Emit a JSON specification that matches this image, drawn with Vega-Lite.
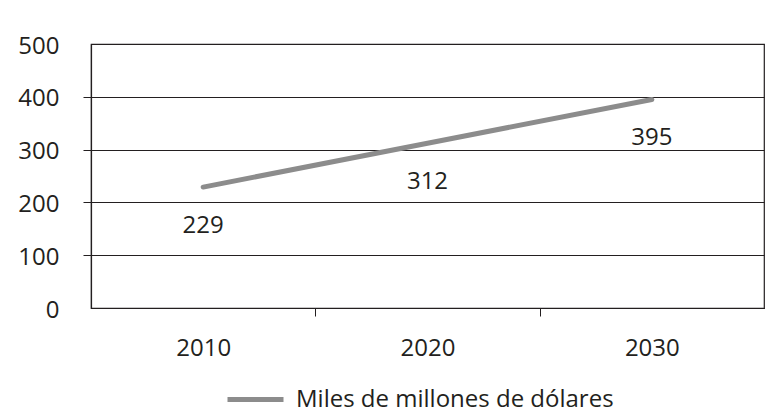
{
  "$schema": "https://vega.github.io/schema/vega-lite/v6.json",
  "width": 673,
  "height": 264,
  "autosize": {"type": "none"},
  "padding": {"left": 91, "top": 44, "right": 8, "bottom": 112},
  "background": "white",
  "config": {
    "font": "Open Sans",
    "view": {"stroke": "#231f20", "strokeWidth": 1.2},
    "axis": {"labelFont": "Open Sans", "labelFontSize": 24, "labelColor": "#231f20", "domainColor": "#231f20", "tickColor": "#231f20", "gridColor": "#231f20", "gridOpacity": 1}
  },
  "data": {
    "values": [
      {"year": 2010, "value": 229, "serie": "Miles de millones de dólares"},
      {"year": 2020, "value": 312, "serie": "Miles de millones de dólares"},
      {"year": 2030, "value": 395, "serie": "Miles de millones de dólares"}
    ]
  },
  "encoding": {
    "x": {
      "field": "year", "type": "quantitative",
      "scale": {"domain": [2005, 2035], "nice": false, "zero": false},
      "axis": {
        "title": null, "grid": false,
        "values": [2010, 2015, 2020, 2025, 2030],
        "format": "d",
        "labelExpr": "datum.value % 10 == 0 ? datum.label : ''",
        "tickSize": 8,
        "tickOpacity": {"condition": {"test": "datum.value % 10 != 0", "value": 1}, "value": 0},
        "labelPadding": 20,
        "domainWidth": 1.2
      }
    },
    "y": {
      "field": "value", "type": "quantitative",
      "scale": {"domain": [0, 500], "nice": false},
      "axis": {
        "title": null, "grid": true, "gridWidth": 1.2,
        "values": [0, 100, 200, 300, 400, 500],
        "tickSize": 8,
        "tickOpacity": {"condition": {"test": "datum.value > 0 && datum.value < 500", "value": 1}, "value": 0},
        "labelPadding": 24,
        "labelOffset": 2,
        "domain": true,
        "domainWidth": 1.2
      }
    }
  },
  "layer": [
    {
      "mark": {"type": "line", "strokeWidth": 5, "strokeCap": "round"},
      "encoding": {
        "color": {
          "field": "serie", "type": "nominal",
          "scale": {"range": ["#8c8c8c"]},
          "legend": {
            "title": null, "orient": "none", "legendX": 134, "legendY": 325,
            "symbolType": "stroke", "symbolSize": 3136, "symbolStrokeWidth": 5,
            "labelFont": "Open Sans", "labelFontSize": 24, "labelColor": "#231f20",
            "labelOffset": 10, "labelLimit": 500
          }
        }
      }
    },
    {
      "mark": {"type": "text", "dy": 39, "fontSize": 24, "font": "Open Sans", "color": "#231f20"},
      "encoding": {"text": {"field": "value", "type": "quantitative"}}
    }
  ]
}
